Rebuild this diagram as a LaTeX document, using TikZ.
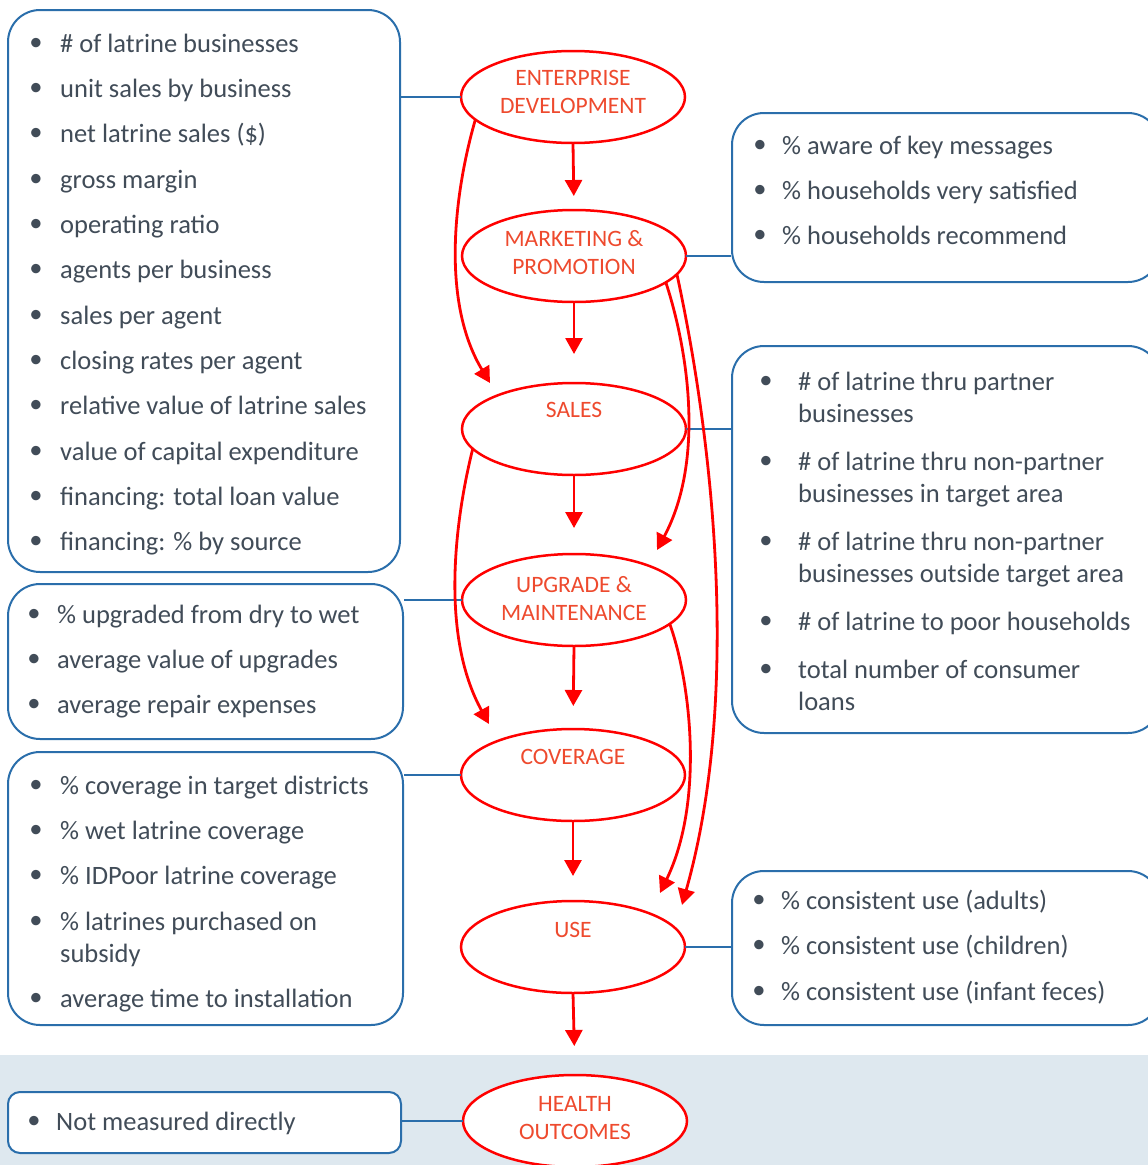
\documentclass[tikz,border=0pt]{standalone}
\usepackage{fontspec}
\setmainfont{Carlito}
\usetikzlibrary{arrows.meta,shapes.geometric,calc}
\definecolor{bblue}{HTML}{2A6EAB}
\definecolor{rred}{HTML}{FF0000}
\definecolor{etext}{HTML}{EE4A2E}
\definecolor{btext}{HTML}{414C58}
\definecolor{bandc}{HTML}{DEE8EF}
\newcommand\bitem[5]{%
  \node[bul] (#1b) at (#2,#4) {•};
  \node[txt] (#1) at (#3,#4) {#5};}
\newcommand\bcont[4]{\node[txt] (#1) at (#2,#3) {#4};}
\begin{document}
\begin{tikzpicture}[x=1pt,y=-1pt,
  bbox/.style={draw=bblue,line width=2pt,rounded corners=32pt,fill=white,inner sep=0},
  ell/.style={ellipse,draw=rred,line width=2.5pt,fill=white,minimum width=224pt,minimum height=92pt,inner sep=0,outer sep=0},
  etxt/.style={text=etext,font=\fontsize{23.5}{28}\selectfont,align=center,inner sep=0,anchor=north},
  txt/.style={text=btext,font=\fontsize{26.5}{32}\selectfont,inner sep=0,anchor=west,text height=17pt,text depth=0pt},
  bul/.style={text=btext,font=\fontsize{26.5}{32}\selectfont,inner sep=0},
  bline/.style={draw=bblue,line width=2pt},
  rarr/.style={draw=rred,line width=2.8pt,-{Triangle[width=17pt,length=16pt]}},
]
\useasboundingbox (0,0) rectangle (1148,1165);
\clip (0,0) rectangle (1148,1165);
\fill[bandc] (0,1055) rectangle (1148,1165);

% boxes
\node[bbox,minimum width=392pt,minimum height=562pt] (b1) at (204,291) {};
\node[bbox,minimum width=395pt,minimum height=155pt] (b2) at (205.5,661.5) {};
\node[bbox,minimum width=395pt,minimum height=273pt] (b3) at (205.5,888.5) {};
\node[bbox,rounded corners=12pt,minimum width=393pt,minimum height=61pt] (b4) at (204.5,1122.5) {};
\node[bbox,minimum width=428pt,minimum height=169pt] (r1) at (946,197.5) {};
\node[bbox,minimum width=428pt,minimum height=387pt] (r2) at (946,539.5) {};
\node[bbox,minimum width=428pt,minimum height=154pt] (r3) at (946,948) {};

% ellipses
\node[ell] (ed) at (573,97) {};
\node[ell] (mp) at (574,256) {};
\node[ell] (sa) at (574,429) {};
\node[ell] (um) at (574,600) {};
\node[ell] (co) at (573,775) {};
\node[ell] (us) at (573,947) {};
\node[ell] (ho) at (575,1121) {};

% blue connectors
\draw[bline] (b1.east |- ed) -- (ed.west);
\draw[bline] (mp.east) -- (r1.west |- mp);
\draw[bline] (sa.east) -- (r2.west |- sa);
\draw[bline] (b2.east |- um) -- (um.west);
\draw[bline] (b3.east |- co) -- (co.west);
\draw[bline] (us.east) -- (r3.west |- us);
\draw[bline] (b4.east |- ho) -- (ho.west);

% ellipse texts
\node[etxt] (edt) at (573,70) {ENTERPRISE\\DEVELOPMENT};
\node[etxt] (mpt) at (574,230.5) {MARKETING \&\\PROMOTION};
\node[etxt] (sat) at (574,402.5) {SALES};
\node[etxt] (umt) at (574,576.5) {UPGRADE \&\\MAINTENANCE};
\node[etxt] (cot) at (573,749.5) {COVERAGE};
\node[etxt] (ust) at (573,922.5) {USE};
\node[etxt] (hot) at (575,1096.5) {HEALTH\\OUTCOMES};

% left top box
\bitem{a1}{36}{60}{44}{\# of latrine businesses}
\bitem{a2}{36}{60}{89}{unit sales by business}
\bitem{a3}{36}{60}{134}{net latrine sales (\$)}
\bitem{a4}{36}{60}{180}{gross margin}
\bitem{a5}{36}{60}{225}{operating ratio}
\bitem{a6}{36}{60}{270}{agents per business}
\bitem{a7}{36}{60}{316}{sales per agent}
\bitem{a8}{36}{60}{361}{closing rates per agent}
\bitem{a9}{36}{60}{406}{relative value of latrine sales}
\bitem{a10}{36}{60}{452}{value of capital expenditure}
\bitem{a11}{36}{60}{497}{financing: total loan value}
\bitem{a12}{36}{60}{542}{financing: \% by source}

% upgrade box
\bitem{u1}{34}{57}{615}{\% upgraded from dry to wet}
\bitem{u2}{34}{57}{660}{average value of upgrades}
\bitem{u3}{34}{57}{705}{average repair expenses}

% coverage box
\bitem{c1}{36}{60}{786}{\% coverage in target districts}
\bitem{c2}{36}{60}{831}{\% wet latrine coverage}
\bitem{c3}{36}{60}{876}{\% IDPoor latrine coverage}
\bitem{c4}{36}{60}{922}{\% latrines purchased on}
\bcont{c4x}{60}{954}{subsidy}
\bitem{c5}{36}{60}{999}{average time to installation}

% health box
\bitem{h1}{34}{56}{1122}{Not measured directly}

% marketing box
\bitem{m1}{760}{782}{146}{\% aware of key messages}
\bitem{m2}{760}{782}{191}{\% households very satisfied}
\bitem{m3}{760}{782}{236}{\% households recommend}

% sales box
\bitem{s1}{766}{798}{382}{\# of latrine thru partner}
\bcont{s1x}{798}{414}{businesses}
\bitem{s2}{766}{798}{462}{\# of latrine thru non-partner}
\bcont{s2x}{798}{494}{businesses in target area}
\bitem{s3}{766}{798}{542}{\# of latrine thru non-partner}
\bcont{s3x}{798}{574}{businesses outside target area}
\bitem{s4}{766}{798}{622}{\# of latrine to poor households}
\bitem{s5}{766}{798}{670}{total number of consumer}
\bcont{s5x}{798}{702}{loans}

% use box
\bitem{e1}{759}{781}{901}{\% consistent use (adults)}
\bitem{e2}{759}{781}{946}{\% consistent use (children)}
\bitem{e3}{759}{781}{992}{\% consistent use (infant feces)}

% red vertical arrows
\draw[rarr,shorten >=14pt] (ed.south) -- (mp.north);
\draw[rarr,shorten >=29pt] (mp.south) -- (sa.north);
\draw[rarr,shorten >=26pt] (sa.south) -- (um.north);
\draw[rarr,shorten >=23pt] (um.south) -- (co.north);
\draw[rarr,shorten >=25pt] (co.south) -- (us.north);
\draw[rarr,shorten >=29pt] (us.south) -- (ho.north);

% curved arrows
\coordinate (ta) at (490,383);
\coordinate (tb) at (489,724);
\coordinate (tc) at (657,550);
\coordinate (td) at (682,905);
\coordinate (te) at (660,893);
\draw[rarr] (ed.193) .. controls (455,190) and (440,300) .. (ta);
\draw[rarr] (sa.191) .. controls (455,520) and (440,635) .. (tb);
\draw[rarr] (mp.344) .. controls (688,350) and (705,460) .. (tc);
\draw[rarr] (mp.350) .. controls (715,450) and (740,700) .. (td);
\draw[rarr] (um.346) .. controls (690,680) and (705,800) .. (te);
\end{tikzpicture}
\end{document}
